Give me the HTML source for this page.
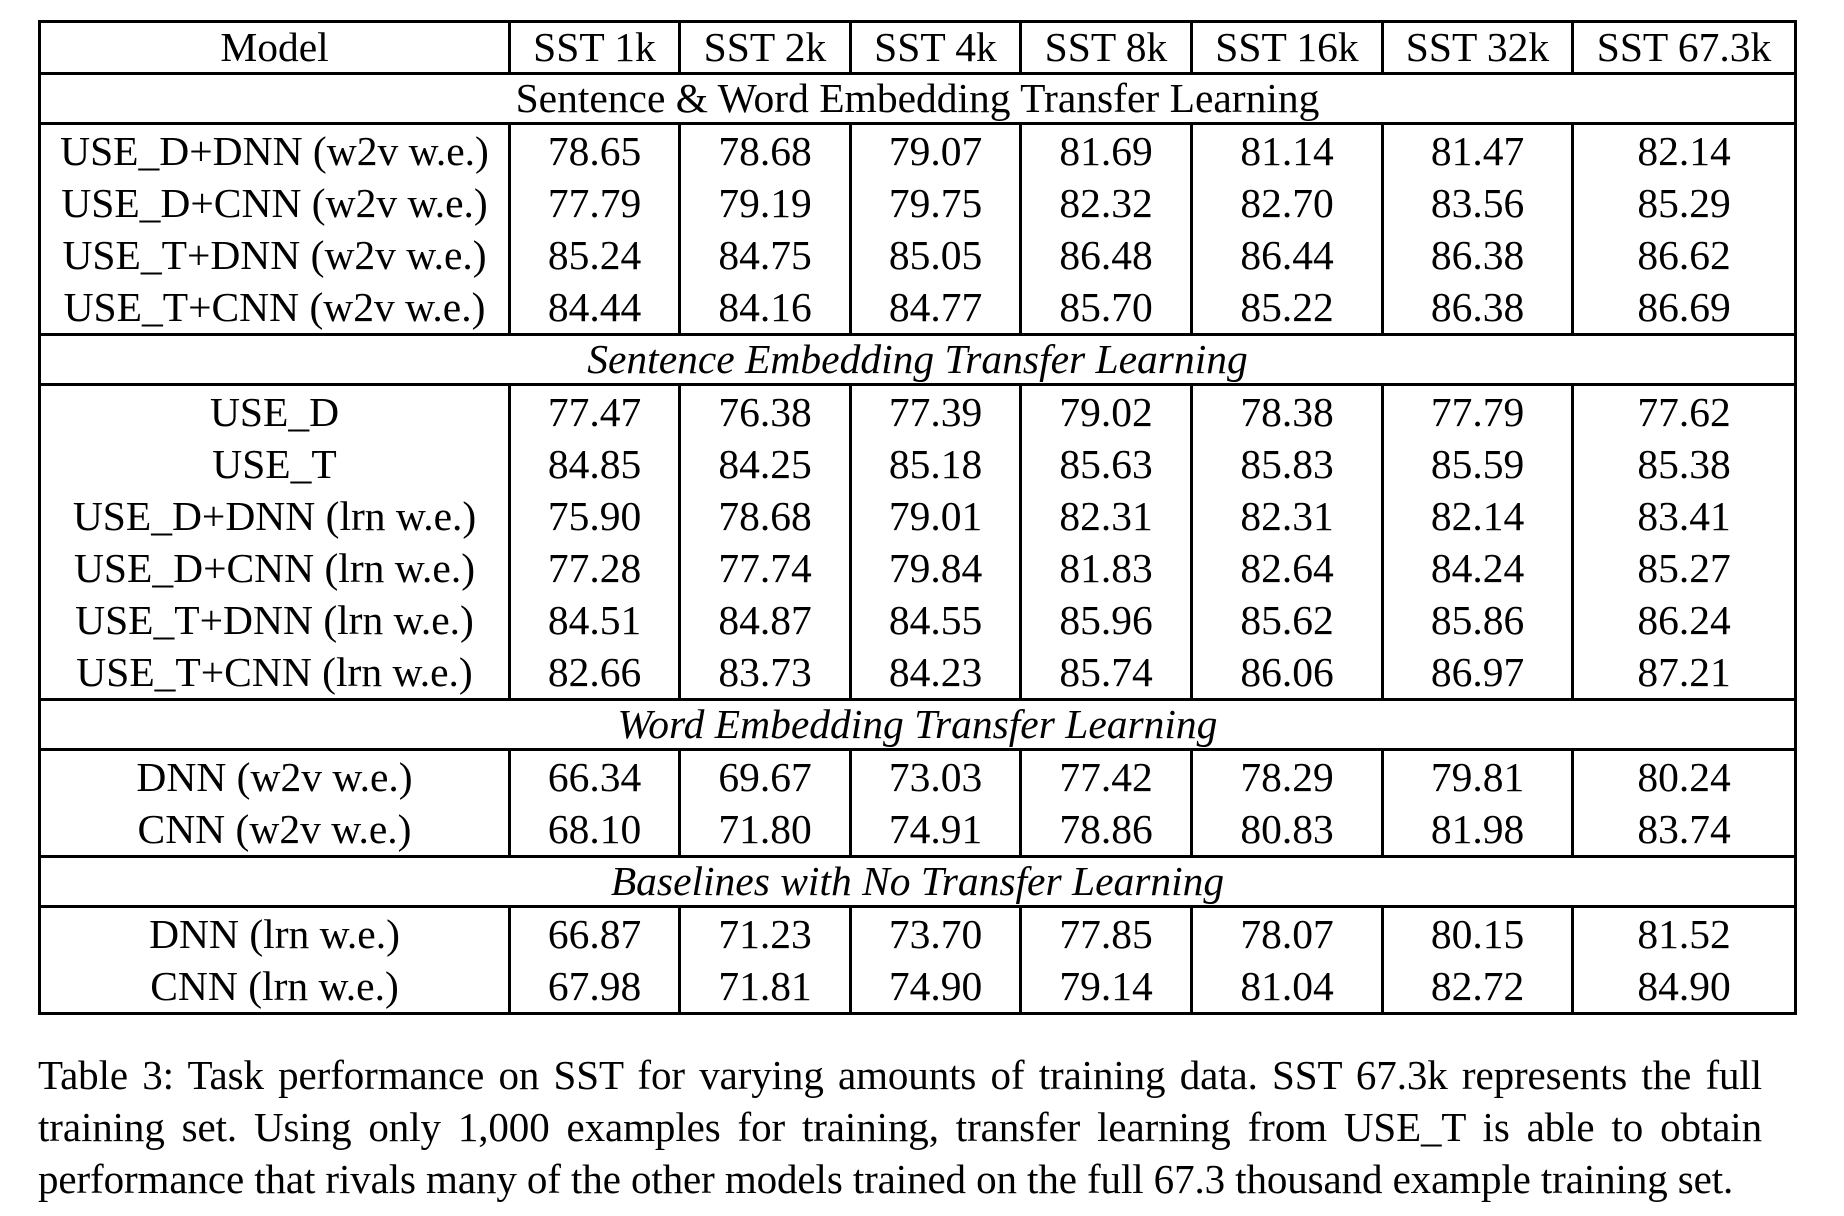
<!DOCTYPE html>
<html><head><meta charset="utf-8"><style>
body{margin:0;width:1844px;height:1216px;background:#fff;font-family:"Liberation Serif",serif;color:#000;position:relative;overflow:hidden}
table{position:absolute;left:38px;top:20px;border-collapse:collapse;table-layout:fixed;width:1756px;font-size:41.5px}
td{padding:0;text-align:center;border-left:3px solid #000;border-right:3px solid #000;white-space:nowrap;height:52px;line-height:52px}
tr.h td{border-top:3px solid #000;border-bottom:3px solid #000;height:49px;line-height:49px}
tr.s td{border-top:3px solid #000;border-bottom:3px solid #000;height:47px;line-height:47px}
tr.last td{border-bottom:3px solid #000}
.i{font-style:italic}
.cap{position:absolute;left:38px;top:1049px;width:1724px;font-size:41px;line-height:52px}
.cap div{white-space:nowrap;text-align:justify;text-align-last:justify;letter-spacing:-0.1px}
.cap div.l{text-align-last:left}
</style></head><body>
<table>
<colgroup><col style="width:470px"><col style="width:170px"><col style="width:171px"><col style="width:170px"><col style="width:171px"><col style="width:191px"><col style="width:190px"><col style="width:223px"></colgroup>
<tr class="h"><td>Model</td><td>SST 1k</td><td>SST 2k</td><td>SST 4k</td><td>SST 8k</td><td>SST 16k</td><td>SST 32k</td><td>SST 67.3k</td></tr>
<tr class="s"><td colspan="8">Sentence &amp; Word Embedding Transfer Learning</td></tr>
<tr><td>USE_D+DNN (w2v w.e.)</td><td>78.65</td><td>78.68</td><td>79.07</td><td>81.69</td><td>81.14</td><td>81.47</td><td>82.14</td></tr>
<tr><td>USE_D+CNN (w2v w.e.)</td><td>77.79</td><td>79.19</td><td>79.75</td><td>82.32</td><td>82.70</td><td>83.56</td><td>85.29</td></tr>
<tr><td>USE_T+DNN (w2v w.e.)</td><td>85.24</td><td>84.75</td><td>85.05</td><td>86.48</td><td>86.44</td><td>86.38</td><td>86.62</td></tr>
<tr><td>USE_T+CNN (w2v w.e.)</td><td>84.44</td><td>84.16</td><td>84.77</td><td>85.70</td><td>85.22</td><td>86.38</td><td>86.69</td></tr>
<tr class="s"><td colspan="8" class="i">Sentence Embedding Transfer Learning</td></tr>
<tr><td>USE_D</td><td>77.47</td><td>76.38</td><td>77.39</td><td>79.02</td><td>78.38</td><td>77.79</td><td>77.62</td></tr>
<tr><td>USE_T</td><td>84.85</td><td>84.25</td><td>85.18</td><td>85.63</td><td>85.83</td><td>85.59</td><td>85.38</td></tr>
<tr><td>USE_D+DNN (lrn w.e.)</td><td>75.90</td><td>78.68</td><td>79.01</td><td>82.31</td><td>82.31</td><td>82.14</td><td>83.41</td></tr>
<tr><td>USE_D+CNN (lrn w.e.)</td><td>77.28</td><td>77.74</td><td>79.84</td><td>81.83</td><td>82.64</td><td>84.24</td><td>85.27</td></tr>
<tr><td>USE_T+DNN (lrn w.e.)</td><td>84.51</td><td>84.87</td><td>84.55</td><td>85.96</td><td>85.62</td><td>85.86</td><td>86.24</td></tr>
<tr><td>USE_T+CNN (lrn w.e.)</td><td>82.66</td><td>83.73</td><td>84.23</td><td>85.74</td><td>86.06</td><td>86.97</td><td>87.21</td></tr>
<tr class="s"><td colspan="8" class="i">Word Embedding Transfer Learning</td></tr>
<tr><td>DNN (w2v w.e.)</td><td>66.34</td><td>69.67</td><td>73.03</td><td>77.42</td><td>78.29</td><td>79.81</td><td>80.24</td></tr>
<tr><td>CNN (w2v w.e.)</td><td>68.10</td><td>71.80</td><td>74.91</td><td>78.86</td><td>80.83</td><td>81.98</td><td>83.74</td></tr>
<tr class="s"><td colspan="8" class="i">Baselines with No Transfer Learning</td></tr>
<tr><td>DNN (lrn w.e.)</td><td>66.87</td><td>71.23</td><td>73.70</td><td>77.85</td><td>78.07</td><td>80.15</td><td>81.52</td></tr>
<tr class="last"><td>CNN (lrn w.e.)</td><td>67.98</td><td>71.81</td><td>74.90</td><td>79.14</td><td>81.04</td><td>82.72</td><td>84.90</td></tr>
</table>
<div class="cap">
<div>Table 3: Task performance on SST for varying amounts of training data. SST 67.3k represents the full</div>
<div>training set. Using only 1,000 examples for training, transfer learning from USE_T is able to obtain</div>
<div class="l">performance that rivals many of the other models trained on the full 67.3 thousand example training set.</div>
</div>
</body></html>
